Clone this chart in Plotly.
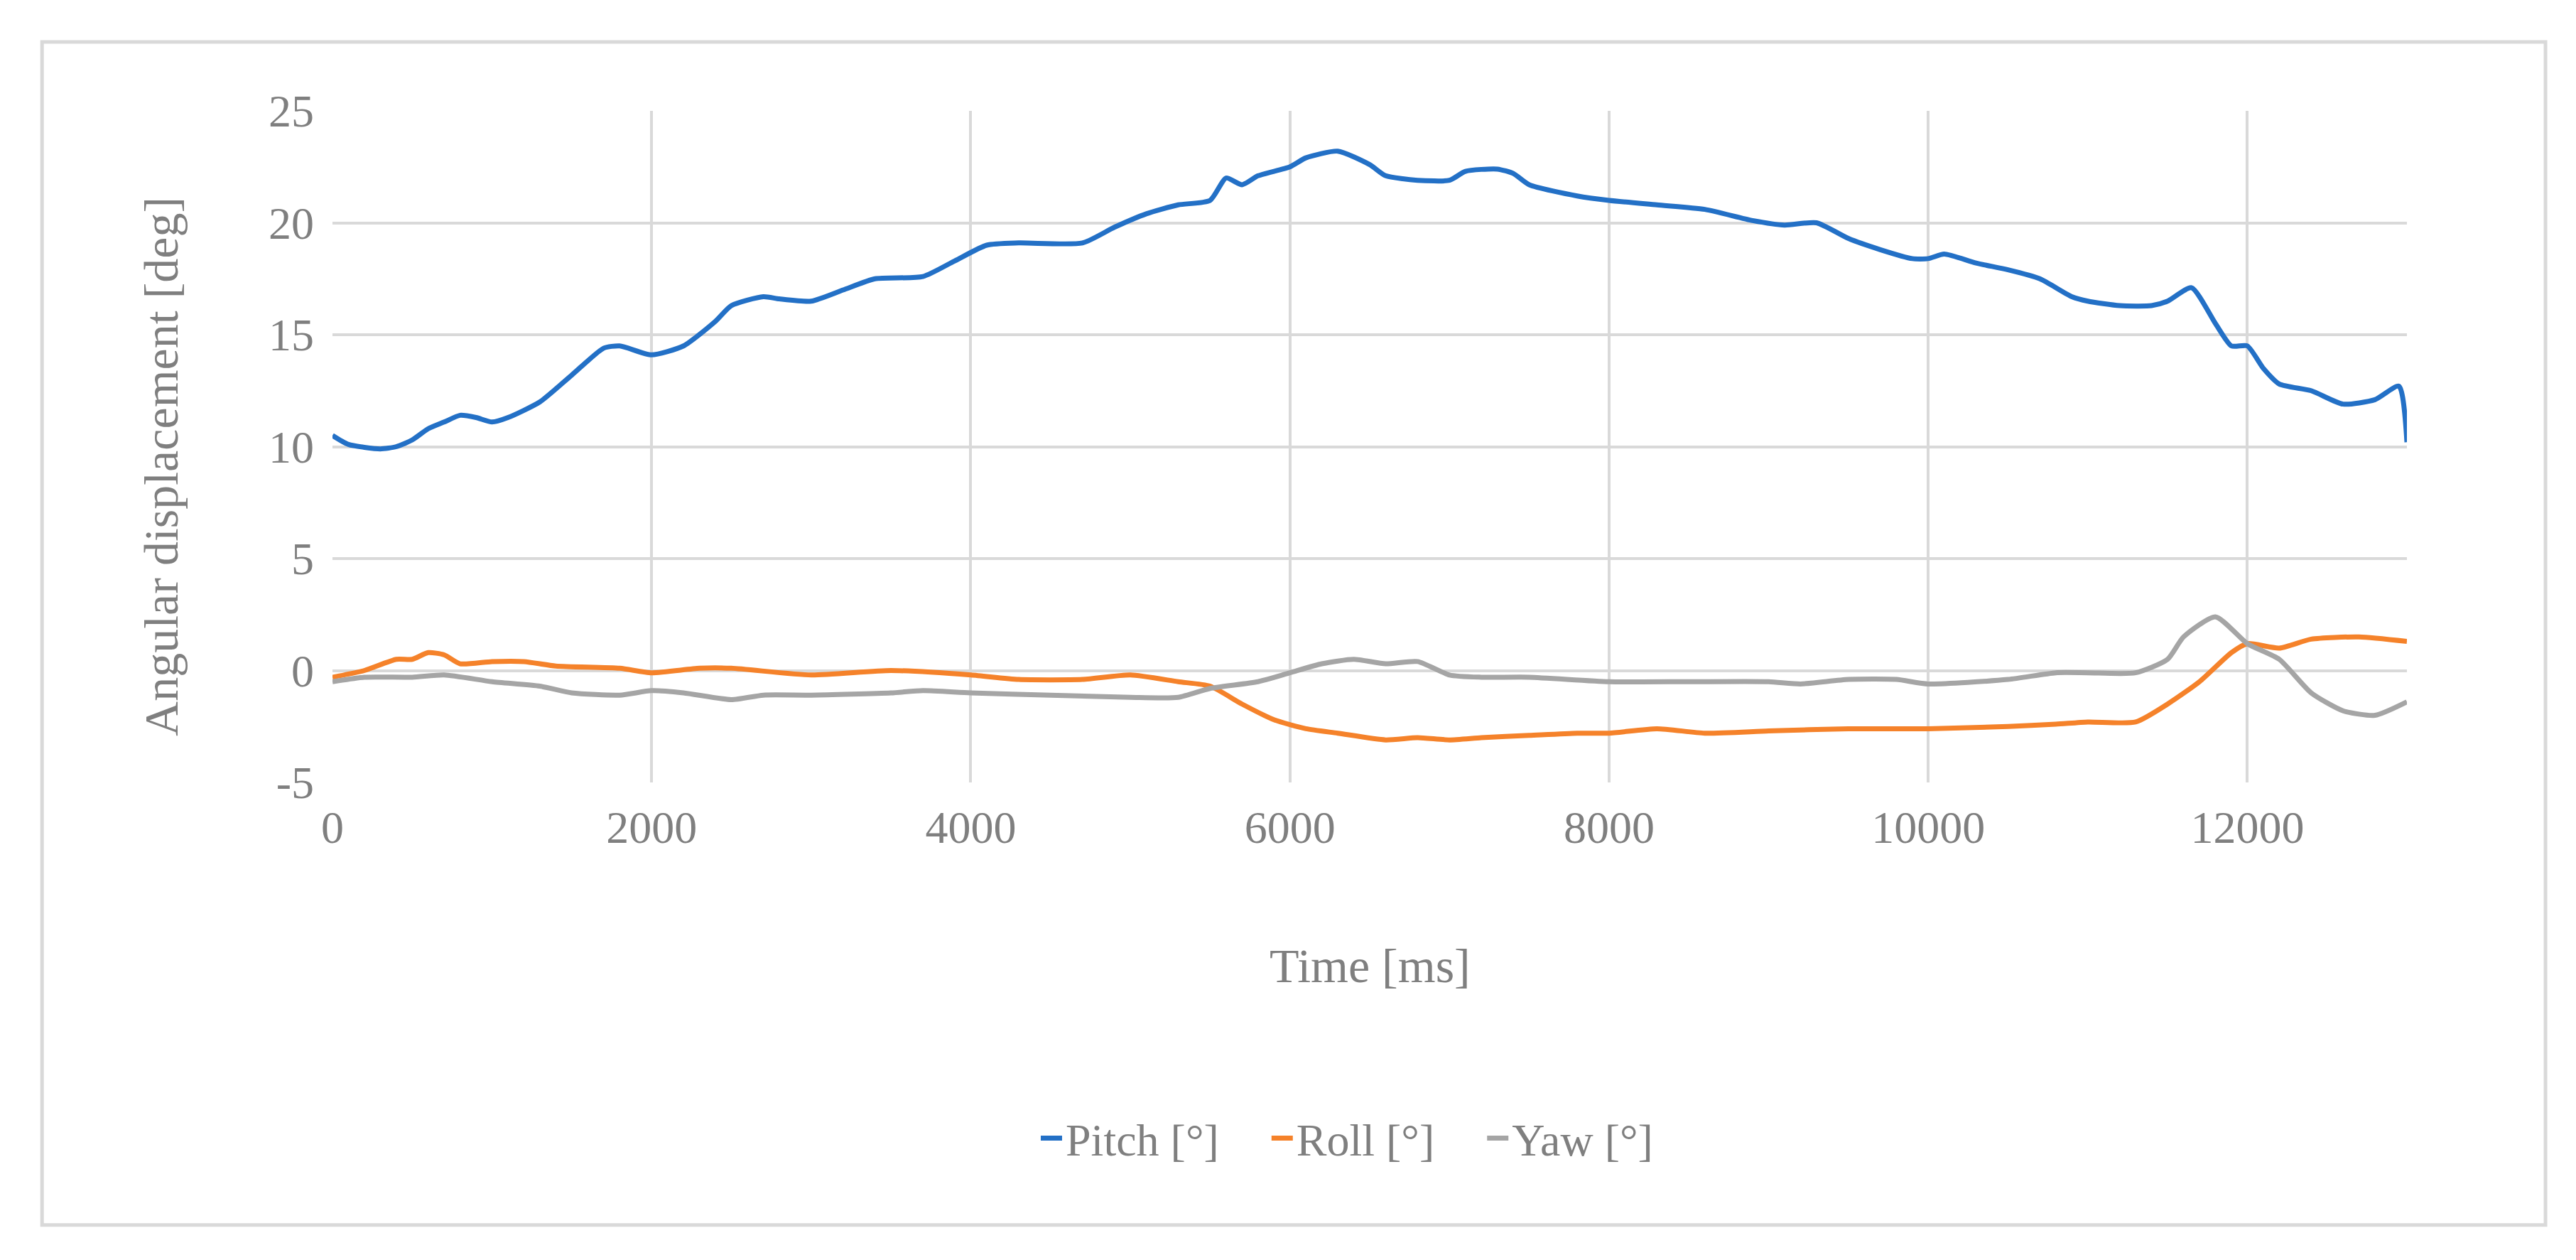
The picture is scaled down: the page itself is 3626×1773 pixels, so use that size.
import plotly.graph_objects as go

pitch_t = [0, 100, 300, 400, 500, 600, 700, 800, 900, 1000, 1100, 1300, 1500, 1700, 1800, 2000, 2200, 2400, 2500, 2700, 2800, 3000, 3200, 3400, 3700, 3900, 4100, 4300, 4700, 4900, 5100, 5300, 5500, 5600, 5700, 5800, 6000, 6100, 6300, 6500, 6600, 6800, 7000, 7100, 7300, 7400, 7500, 7800, 8000, 8300, 8600, 8900, 9100, 9300, 9500, 9700, 9900, 10000, 10100, 10300, 10500, 10700, 10900, 11000, 11200, 11400, 11500, 11650, 11800, 11900, 12000, 12100, 12200, 12400, 12600, 12800, 12950, 13000]
pitch_v = [10.5, 10.1, 9.9, 10.0, 10.3, 10.8, 11.1, 11.4, 11.3, 11.1, 11.3, 12.0, 13.2, 14.4, 14.5, 14.1, 14.5, 15.6, 16.3, 16.7, 16.6, 16.5, 17.0, 17.5, 17.6, 18.3, 19.0, 19.1, 19.1, 19.8, 20.4, 20.8, 21.0, 22.0, 21.7, 22.1, 22.5, 22.9, 23.2, 22.6, 22.1, 21.9, 21.9, 22.3, 22.4, 22.2, 21.7, 21.2, 21.0, 20.8, 20.6, 20.1, 19.9, 20.0, 19.3, 18.8, 18.4, 18.4, 18.6, 18.2, 17.9, 17.5, 16.7, 16.5, 16.3, 16.3, 16.5, 17.1, 15.5, 14.5, 14.5, 13.5, 12.8, 12.5, 11.9, 12.1, 12.7, 10.2]

roll_t = [0, 200, 400, 500, 600, 700, 800, 1000, 1200, 1400, 1800, 2000, 2300, 2500, 3000, 3500, 4000, 4300, 4700, 5000, 5300, 5500, 5700, 5900, 6100, 6300, 6600, 6800, 7000, 7200, 7500, 7800, 8000, 8300, 8600, 9000, 9500, 10000, 10500, 10800, 11000, 11300, 11500, 11700, 11900, 12000, 12200, 12400, 12700, 13000]
roll_v = [-0.3, 0.0, 0.5, 0.5, 0.8, 0.7, 0.3, 0.4, 0.4, 0.2, 0.1, -0.1, 0.1, 0.1, -0.2, 0.0, -0.2, -0.4, -0.4, -0.2, -0.5, -0.7, -1.5, -2.2, -2.6, -2.8, -3.1, -3.0, -3.1, -3.0, -2.9, -2.8, -2.8, -2.6, -2.8, -2.7, -2.6, -2.6, -2.5, -2.4, -2.3, -2.3, -1.5, -0.5, 0.8, 1.2, 1.0, 1.4, 1.5, 1.3]

yaw_t = [0, 200, 500, 700, 1000, 1300, 1500, 1800, 2000, 2200, 2500, 2700, 3000, 3500, 3700, 4000, 4500, 5000, 5300, 5500, 5800, 6000, 6200, 6400, 6600, 6800, 7000, 7200, 7500, 8000, 8500, 9000, 9200, 9500, 9800, 10000, 10500, 10800, 11000, 11300, 11500, 11600, 11800, 12000, 12200, 12400, 12600, 12800, 13000]
yaw_v = [-0.5, -0.3, -0.3, -0.2, -0.5, -0.7, -1.0, -1.1, -0.9, -1.0, -1.3, -1.1, -1.1, -1.0, -0.9, -1.0, -1.1, -1.2, -1.2, -0.8, -0.5, -0.1, 0.3, 0.5, 0.3, 0.4, -0.2, -0.3, -0.3, -0.5, -0.5, -0.5, -0.6, -0.4, -0.4, -0.6, -0.4, -0.1, -0.1, -0.1, 0.5, 1.5, 2.4, 1.2, 0.5, -1.0, -1.8, -2.0, -1.4]

x_ticks = [0, 2000, 4000, 6000, 8000, 10000, 12000]
y_ticks = [-5, 0, 5, 10, 15, 20, 25]

font = "Liberation Serif, DejaVu Serif, serif"
grey = "#7f7f7f"

fig = go.Figure()
for name, t, v, c in [("Pitch [°]", pitch_t, pitch_v, "#2370c6"),
                      ("Roll [°]", roll_t, roll_v, "#f5822a"),
                      ("Yaw [°]", yaw_t, yaw_v, "#a5a5a5")]:
    fig.add_trace(go.Scatter(x=t, y=v, mode="lines", name=name + "    ",
                             line=dict(color=c, width=7, shape="spline", smoothing=0.6)))

fig.update_layout(
    width=3626, height=1773,
    margin=dict(l=460, r=246, t=148, b=680),
    plot_bgcolor="white", paper_bgcolor="white",
    font=dict(family=font, size=64, color=grey),
    xaxis=dict(range=[0, 13000], tickvals=x_ticks, ticktext=[str(v) for v in x_ticks],
               showgrid=True, gridcolor="#d9d9d9", gridwidth=4, zeroline=False,
               ticks="", showline=False, ticklabelstandoff=20),
    yaxis=dict(range=[-5, 25], tickvals=y_ticks, ticktext=[str(v) for v in y_ticks],
               showgrid=True, gridcolor="#d9d9d9", gridwidth=4, zeroline=False,
               ticks="", ticklabelstandoff=25),
    legend=dict(orientation="h", x=0.5, xanchor="center", y=-0.53, yanchor="middle",
                font=dict(size=64, color=grey)),
    showlegend=True,
)
fig.add_annotation(text="Time [ms]", xref="paper", yref="paper", x=0.5, y=-0.273,
                   showarrow=False, font=dict(size=68, color=grey), yanchor="middle")
fig.add_annotation(text="Angular displacement [deg]", xref="paper", yref="paper",
                   x=-0.0825, y=0.47, textangle=-90, showarrow=False,
                   font=dict(size=68, color=grey), xanchor="center")
fig.add_shape(type="rect", xref="paper", yref="paper", x0=-0.140, x1=1.0668,
              y0=-0.659, y1=1.1026, line=dict(color="#d9d9d9", width=5))

fig.write_html("out.html")
